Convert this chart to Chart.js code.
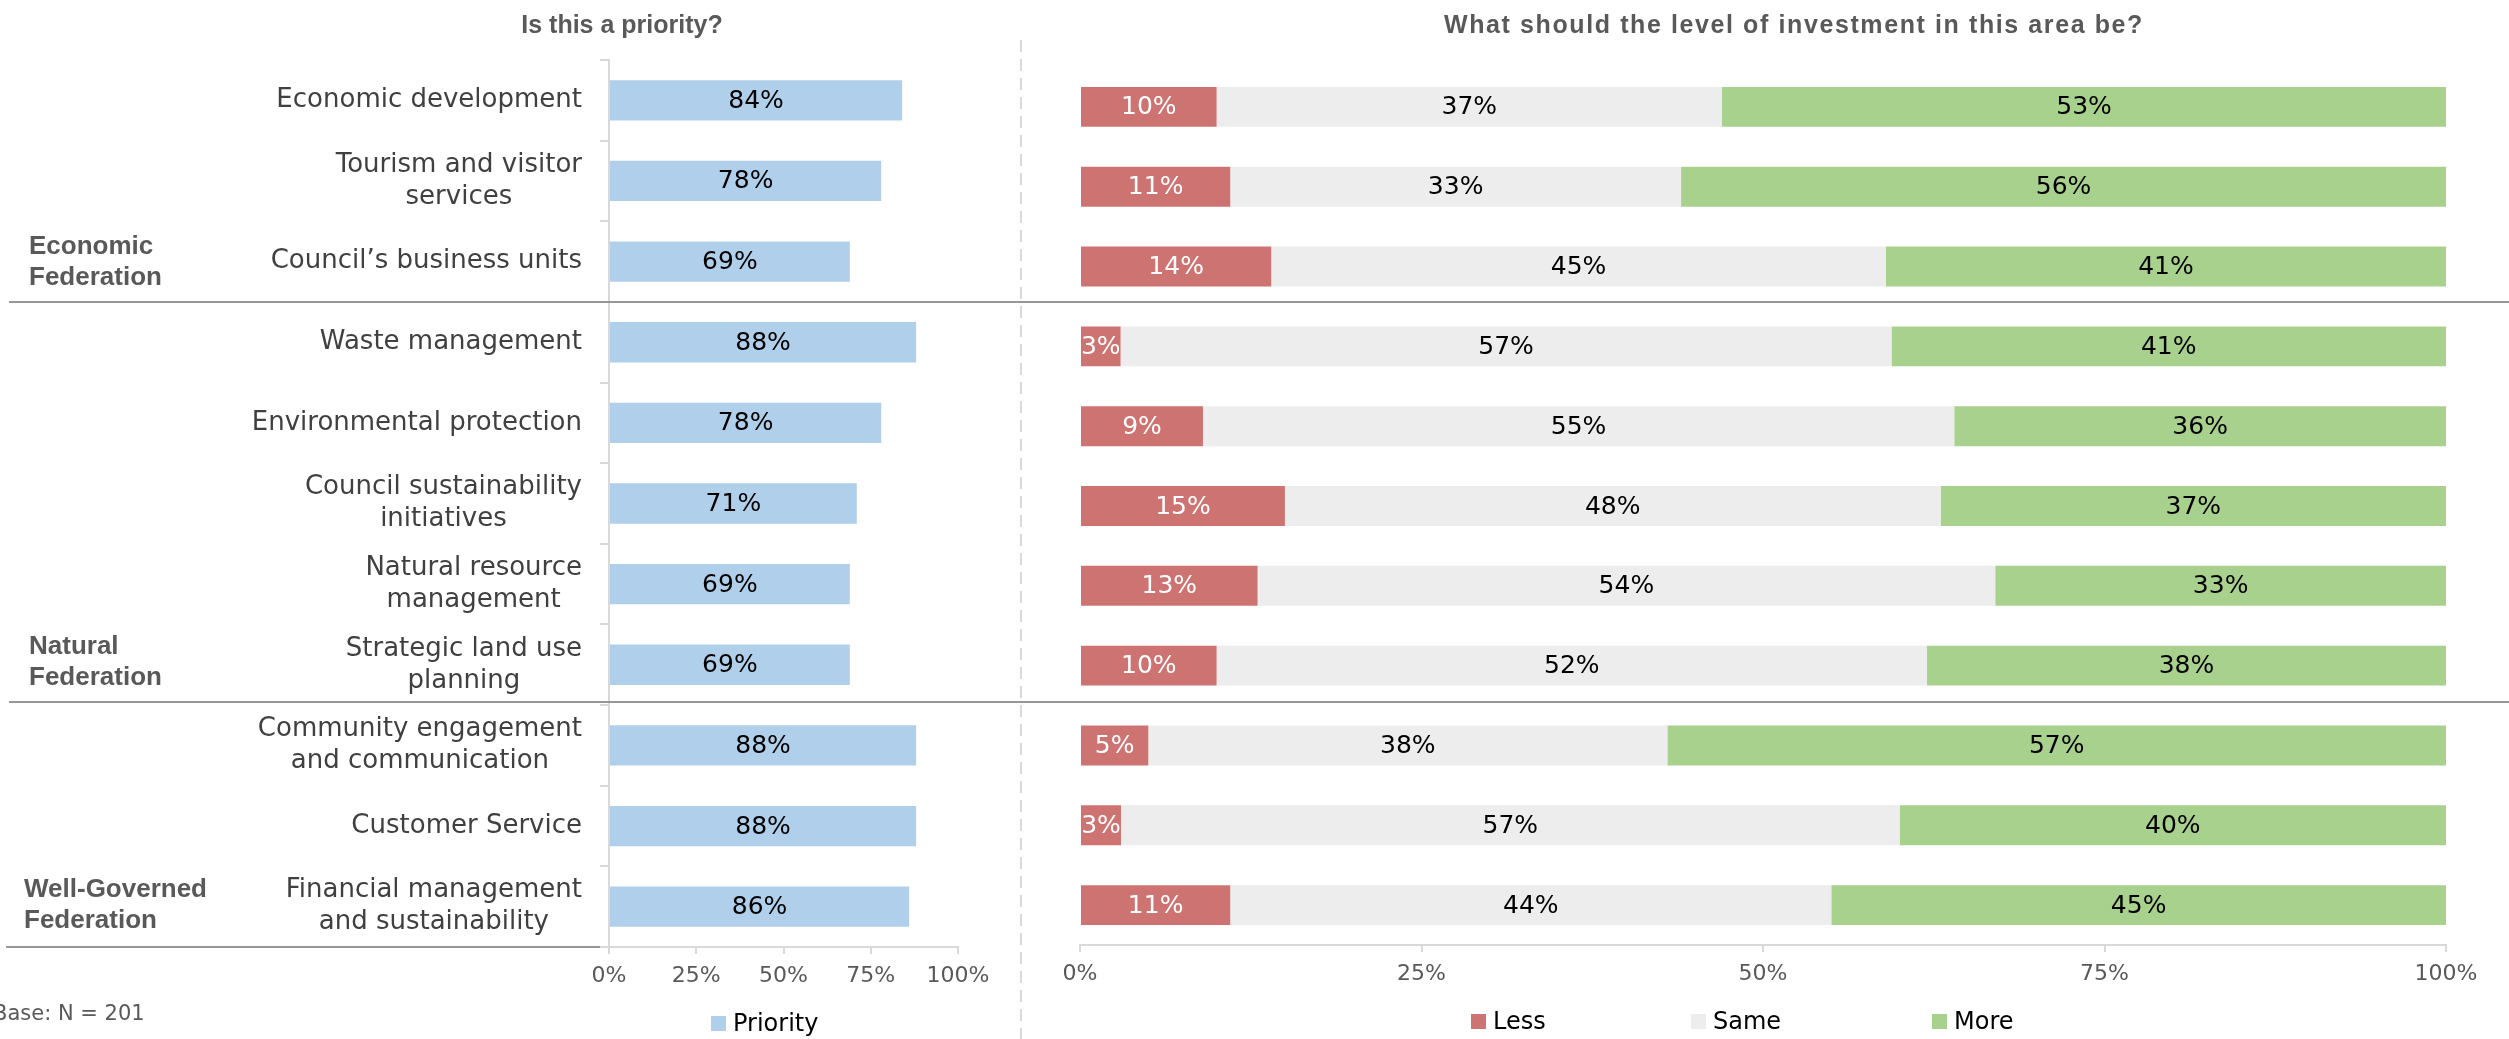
<!DOCTYPE html>
<html><head><meta charset="utf-8">
<script src="https://cdn.jsdelivr.net/npm/chart.js@4.4.0/dist/chart.umd.min.js"></script>
<style>
html,body{margin:0;padding:0;background:#fff;}
#wrap{position:relative;width:2509px;height:1039px;overflow:hidden;font-family:"DejaVu Sans",sans-serif;}
canvas{position:absolute;top:0;}
.title{position:absolute;top:9px;font:bold 25px/30px "Liberation Sans",Arial,sans-serif;color:#595959;transform:translateX(-50%);white-space:nowrap;}
.group{position:absolute;font:bold 26px/31px "Liberation Sans",Arial,sans-serif;color:#595959;white-space:nowrap;}
.sep{position:absolute;height:2px;background:#969696;z-index:3;}
.legend{position:absolute;display:flex;align-items:center;font:24px/28px "DejaVu Sans",sans-serif;color:#000;white-space:nowrap;}
.legend .box{width:15px;height:15px;margin-right:7px;}
.foot{position:absolute;left:-7px;top:1001px;font:21px/24px "DejaVu Sans",sans-serif;color:#595959;white-space:nowrap;}
</style></head>
<body><div id="wrap">
<canvas id="left" width="1000" height="1039" style="left:0px"></canvas>
<canvas id="right" width="1479" height="1039" style="left:1030px"></canvas>
<svg style="position:absolute;left:0;top:0;z-index:2" width="2509" height="1039"><line x1="1021" y1="40" x2="1021" y2="1039" stroke="#D9D9D9" stroke-width="2" stroke-dasharray="12 7"/></svg>
<div class="title" style="left:622px">Is this a priority?</div>
<div class="title" style="left:1794px;letter-spacing:1.6px">What should the level of investment in this area be?</div>
<div class="group" style="left:29px;top:230px">Economic<br>Federation</div>
<div class="group" style="left:29px;top:630px">Natural<br>Federation</div>
<div class="group" style="left:24px;top:873px">Well-Governed<br>Federation</div>
<div class="sep" style="left:9px;top:301px;width:2500px"></div>
<div class="sep" style="left:9px;top:701px;width:2500px"></div>
<div class="sep" style="left:6px;top:946px;width:594px"></div>
<div class="legend" style="left:711px;top:1009px"><span class="box" style="background:#B0CFEA"></span>Priority</div>
<div class="legend" style="left:1471px;top:1007px"><span class="box" style="background:#CD7371"></span>Less</div>
<div class="legend" style="left:1691px;top:1007px"><span class="box" style="background:#EDEDED"></span>Same</div>
<div class="legend" style="left:1932px;top:1007px"><span class="box" style="background:#A9D18E"></span>More</div>
<div class="foot">Base: N = 201</div>
</div>
<script>
const categories = [
  ["Economic development"],
  ["Tourism and visitor", "services"],
  ["Council\u2019s business units"],
  ["Waste management"],
  ["Environmental protection"],
  ["Council sustainability", "initiatives"],
  ["Natural resource", "management"],
  ["Strategic land use", "planning"],
  ["Community engagement", "and communication"],
  ["Customer Service"],
  ["Financial management", "and sustainability"]
];
const priority = [84, 78, 69, 88, 78, 71, 69, 69, 88, 88, 86];
const less = [10, 11, 14, 3, 9, 15, 13, 10, 5, 3, 11];
const same = [37, 33, 45, 57, 55, 48, 54, 52, 38, 57, 44];
const more = [53, 56, 41, 41, 36, 37, 33, 38, 57, 40, 45];
const percentTicks = [0, 25, 50, 75, 100];

const totals = less.map((v, i) => v + same[i] + more[i]);
const share = arr => arr.map((v, i) => v / totals[i] * 100);

const valueLabels = {
  id: 'valueLabels',
  afterDatasetsDraw(chart) {
    const ctx = chart.ctx;
    ctx.save();
    ctx.font = '25px "DejaVu Sans"';
    ctx.textAlign = 'center';
    ctx.textBaseline = 'middle';
    chart.data.datasets.forEach((ds, di) => {
      const meta = chart.getDatasetMeta(di);
      meta.data.forEach((el, i) => {
        ctx.fillStyle = ds.labelColor;
        ctx.fillText(ds.shown[i] + '%', (el.x + el.base) / 2, el.y + 1);
      });
    });
    ctx.restore();
  }
};

const yLabels = {
  id: 'yLabels',
  afterDraw(chart) {
    const s = chart.scales.y;
    const ctx = chart.ctx;
    ctx.save();
    ctx.font = '26px "DejaVu Sans"';
    ctx.fillStyle = '#404040';
    ctx.textAlign = 'center';
    ctx.textBaseline = 'middle';
    categories.forEach((lines, i) => {
      const w = Math.max(...lines.map(l => ctx.measureText(l).width));
      const cx = s.right - 27 - w / 2;
      const yc = s.getPixelForTick(i);
      lines.forEach((l, k) => ctx.fillText(l, cx, yc + (k - (lines.length - 1) / 2) * 32));
    });
    ctx.restore();
  }
};

const xAxis = (h) => ({
  min: 0, max: 100,
  afterFit: s => { s.height = h; },
  afterBuildTicks: s => { s.ticks = percentTicks.map(v => ({ value: v })); },
  ticks: { callback: v => v + '%', font: { family: 'DejaVu Sans', size: 22 }, color: '#595959', padding: 9, maxRotation: 0 },
  grid: { drawOnChartArea: false, drawTicks: true, tickLength: 7, color: '#D9D9D9', lineWidth: 2 },
  border: { display: true, color: '#D9D9D9', width: 2 }
});

new Chart(document.getElementById('left'), {
  type: 'bar',
  data: {
    labels: categories,
    datasets: [{
      label: 'Priority', data: priority, shown: priority, labelColor: '#000',
      backgroundColor: '#B0CFEA', barPercentage: 0.5, categoryPercentage: 1
    }]
  },
  options: {
    indexAxis: 'y', responsive: false, animation: false, devicePixelRatio: 1,
    layout: { padding: { top: 60, right: 42, left: 0, bottom: 0 } },
    plugins: { legend: { display: false }, tooltip: { enabled: false } },
    scales: {
      x: xAxis(92),
      y: {
        afterFit: s => { s.width = 609; },
        ticks: { display: false },
        grid: { drawOnChartArea: false, drawTicks: true, tickLength: 9, color: '#D9D9D9', lineWidth: 2 },
        border: { display: true, color: '#D9D9D9', width: 2 }
      }
    }
  },
  plugins: [valueLabels, yLabels]
});

new Chart(document.getElementById('right'), {
  type: 'bar',
  data: {
    labels: categories,
    datasets: [
      { label: 'Less', data: share(less), shown: less, labelColor: '#fff', backgroundColor: '#CD7371', barPercentage: 0.5, categoryPercentage: 1 },
      { label: 'Same', data: share(same), shown: same, labelColor: '#000', backgroundColor: '#EDEDED', barPercentage: 0.5, categoryPercentage: 1 },
      { label: 'More', data: share(more), shown: more, labelColor: '#000', backgroundColor: '#A9D18E', barPercentage: 0.5, categoryPercentage: 1 }
    ]
  },
  options: {
    indexAxis: 'y', responsive: false, animation: false, devicePixelRatio: 1,
    layout: { padding: { top: 67, right: 63, left: 50, bottom: 0 } },
    plugins: { legend: { display: false }, tooltip: { enabled: false } },
    scales: {
      x: Object.assign(xAxis(94), { stacked: true }),
      y: { stacked: true, display: false }
    }
  },
  plugins: [valueLabels]
});
</script>
</body></html>
